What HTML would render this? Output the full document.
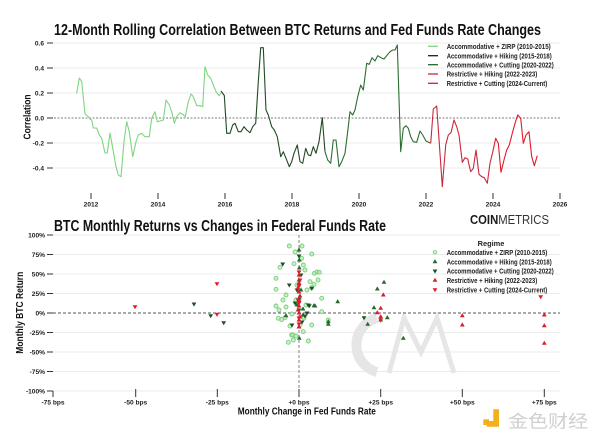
<!DOCTYPE html>
<html><head><meta charset="utf-8"><style>
html,body{margin:0;padding:0;background:#fff;}
svg{display:block;font-family:"Liberation Sans","Noto Sans CJK SC",sans-serif;}
.t{font-weight:bold;fill:#111;}
.tk{font-size:6.6px;font-weight:bold;fill:#222;}
.lg{font-size:7.4px;font-weight:bold;fill:#222;}
.g{stroke:#ebebeb;stroke-width:1;}
.k{stroke:#333;stroke-width:1;}
</style></head><body>
<svg width="600" height="442" viewBox="0 0 600 442" xmlns="http://www.w3.org/2000/svg">
<defs>
<path id="tu" d="M0,-2.6 L2.4,1.5 L-2.4,1.5Z"/>
<path id="td" d="M0,2.6 L2.4,-1.5 L-2.4,-1.5Z"/>
</defs>
<rect width="600" height="442" fill="#fff"/>

<!-- ===== TOP CHART ===== -->
<text class="t" x="54" y="35" font-size="15.5" textLength="487" lengthAdjust="spacingAndGlyphs">12-Month Rolling Correlation Between BTC Returns and Fed Funds Rate Changes</text>

<g class="g">
<line x1="54" y1="43" x2="560" y2="43"/>
<line x1="54" y1="68" x2="560" y2="68"/>
<line x1="54" y1="93" x2="560" y2="93"/>
<line x1="54" y1="143" x2="560" y2="143"/>
<line x1="54" y1="168" x2="560" y2="168"/>
</g>
<line x1="54" y1="118" x2="560" y2="118" stroke="#555" stroke-width="0.8" stroke-dasharray="2,1.5"/>

<g class="k">
<line x1="47" y1="43" x2="53" y2="43"/>
<line x1="47" y1="68" x2="53" y2="68"/>
<line x1="47" y1="93" x2="53" y2="93"/>
<line x1="47" y1="118" x2="53" y2="118"/>
<line x1="47" y1="143" x2="53" y2="143"/>
<line x1="47" y1="168" x2="53" y2="168"/>
<line x1="91" y1="193" x2="91" y2="199"/>
<line x1="158" y1="193" x2="158" y2="199"/>
<line x1="225" y1="193" x2="225" y2="199"/>
<line x1="292" y1="193" x2="292" y2="199"/>
<line x1="359" y1="193" x2="359" y2="199"/>
<line x1="426" y1="193" x2="426" y2="199"/>
<line x1="493" y1="193" x2="493" y2="199"/>
<line x1="560" y1="193" x2="560" y2="199"/>
</g>
<g class="tk" text-anchor="end">
<text x="44" y="45.3">0.6</text>
<text x="44" y="70.3">0.4</text>
<text x="44" y="95.3">0.2</text>
<text x="44" y="120.3">0.0</text>
<text x="44" y="145.3">-0.2</text>
<text x="44" y="170.3">-0.4</text>
</g>
<g class="tk" text-anchor="middle">
<text x="91" y="206.5">2012</text>
<text x="158" y="206.5">2014</text>
<text x="225" y="206.5">2016</text>
<text x="292" y="206.5">2018</text>
<text x="359" y="206.5">2020</text>
<text x="426" y="206.5">2022</text>
<text x="493" y="206.5">2024</text>
<text x="560" y="206.5">2026</text>
</g>
<text class="t" font-size="10" transform="translate(30.5,117) rotate(-90)" text-anchor="middle" textLength="45" lengthAdjust="spacingAndGlyphs">Correlation</text>

<g fill="none" stroke-width="1.1" stroke-linejoin="round">
<polyline stroke="#7dd67f" points="76.7,93.3 79.3,78 81.7,81.7 85,114 88.3,116.7 90,119 91.7,120 93.3,128 96.7,128 99.3,135 101.7,138.3 105,153 107.3,153 110,133 112.7,148 116,166.7 118.3,175 121,176.7 124,141.7 126.7,121.7 129.3,131.7 132.7,156.7 136,141.7 138.3,135 141.7,133.3 145,136.7 149.3,136.7 151.7,118.3 155,111.7 157.3,121.7 160,121 163.3,120 166,100 169.3,105 171.7,111.7 174.3,123.3 176.7,116.7 180,112.7 182.7,114.3 185.3,116.7 188.3,101.7 191,94 193.3,96.7 196.7,105.7 200,105.7 202.7,106.7 205,66.7 207.7,75 210.7,78.3 213.3,85 216,91.7 219,95.7 221,93"/>
<polyline stroke="#1f4a22" points="221,91 224.3,95.5 226.7,133.3 230,133.3 232.7,125 235,123.3 238.3,131.7 241,131.7 244,126.7 246.7,130 250,132.7 252.7,126.7 255.7,123.3 258.3,81.7 260.7,47.7 263.3,47.7 266,110 268.3,115 271.7,126.7 274.3,130 277.3,136.7 280.7,156.7 283.3,151.7 286,158.3 289.3,166.7 291.7,161.7 294,153.3 297.3,145 300,161.7 302.7,163.3 305.7,148.3 308.3,155 310.7,155.7 313.3,146.7 316,153.3 319,141.7 322.3,117.7 325,151.7"/>
<polyline stroke="#2b6e30" points="325,151.7 327.7,160 330.7,163.3 333.3,140 336,140 339,166.7 341.7,161.7 345,153.3 347.7,131.7 350,111.7 352.7,115 355,110 357.7,96.7 360.7,85 363.3,90 366.7,63.3 369.3,64.3 372,57.7 375,61 377.7,55.7 381,57.7 384,59 386.7,55.7 390,51.7 392.7,50 395,50 397.3,45 400.7,151.7 403.3,128.3 406,125.7 408.3,128.3 410.7,136.7 413.3,141.7 416.7,142.3 420,131 422.7,135 426,141 430.7,143.3"/>
<polyline stroke="#c9283b" points="430.7,143.3 433.3,109 436.7,106 442.3,186.7 445.7,145 448.3,135 451,132.7 454,120 456.7,126.7 459,135 462.3,162.3 465,157.7 467.7,159 470.7,171.7 473.3,168.3 476,150 479,174.3 481.7,176.7 484.3,177.7 487.3,183.3 490,163.3 492.7,152.3"/>
<polyline stroke="#e0192a" points="492.7,152.3 495.7,138.3 498.3,143.3 501,172.3 504,160 506.7,150 509.3,145 512.3,133.3 515,123.3 517.7,115 520.7,118.3 523.3,143.3 526,135 529,131.7 531.7,156.7 534.3,165.7 537.3,155.7"/>
</g>

<!-- top legend -->
<g stroke-width="1.3">
<line x1="428" y1="46.3" x2="438" y2="46.3" stroke="#7dd67f"/>
<line x1="428" y1="55.7" x2="438" y2="55.7" stroke="#0f2410"/>
<line x1="428" y1="64.7" x2="438" y2="64.7" stroke="#1f6a2a"/>
<line x1="428" y1="74" x2="438" y2="74" stroke="#c9283b"/>
<line x1="428" y1="83.3" x2="438" y2="83.3" stroke="#e0192a"/>
</g>
<g class="lg">
<text x="446.7" y="49" textLength="104" lengthAdjust="spacingAndGlyphs">Accommodative + ZIRP (2010-2015)</text>
<text x="446.7" y="58.4" textLength="105" lengthAdjust="spacingAndGlyphs">Accommodative + Hiking (2015-2018)</text>
<text x="446.7" y="67.4" textLength="107" lengthAdjust="spacingAndGlyphs">Accommodative + Cutting (2020-2022)</text>
<text x="446.7" y="76.7" textLength="90.6" lengthAdjust="spacingAndGlyphs">Restrictive + Hiking (2022-2023)</text>
<text x="446.7" y="86" textLength="100.6" lengthAdjust="spacingAndGlyphs">Restrictive + Cutting (2024-Current)</text>
</g>

<!-- ===== BOTTOM CHART ===== -->
<text class="t" x="54" y="231" font-size="15.5" textLength="332" lengthAdjust="spacingAndGlyphs">BTC Monthly Returns vs Changes in Federal Funds Rate</text>
<text x="470" y="224" font-size="12.5" fill="#1a1a1a" textLength="79" lengthAdjust="spacingAndGlyphs"><tspan font-weight="bold">COIN</tspan><tspan font-weight="normal" fill="#333">METRICS</tspan></text>

<g class="g">
<line x1="53" y1="235" x2="560" y2="235"/>
<line x1="53" y1="254.5" x2="560" y2="254.5"/>
<line x1="53" y1="274" x2="560" y2="274"/>
<line x1="53" y1="293.5" x2="560" y2="293.5"/>
<line x1="53" y1="332.5" x2="560" y2="332.5"/>
<line x1="53" y1="352" x2="560" y2="352"/>
<line x1="53" y1="371.5" x2="560" y2="371.5"/>
<line x1="53" y1="391" x2="560" y2="391"/>
</g>

<!-- CM watermark -->
<g fill="none" stroke="#e6e6e6" stroke-linecap="butt">
<path d="M377,318 A28,28 0 0 0 377,372" stroke-width="10"/>
<polyline points="389,373 404,318 421,352 437,318 454,373" stroke-width="5" stroke-linejoin="miter"/>
</g>

<line x1="53" y1="313" x2="560" y2="313" stroke="#555" stroke-width="0.9" stroke-dasharray="3,2"/>
<line x1="299" y1="235" x2="299" y2="391" stroke="#777" stroke-width="0.9" stroke-dasharray="3,2"/>

<g class="k">
<line x1="47" y1="235" x2="53" y2="235"/>
<line x1="47" y1="254.5" x2="53" y2="254.5"/>
<line x1="47" y1="274" x2="53" y2="274"/>
<line x1="47" y1="293.5" x2="53" y2="293.5"/>
<line x1="47" y1="313" x2="53" y2="313"/>
<line x1="47" y1="332.5" x2="53" y2="332.5"/>
<line x1="47" y1="352" x2="53" y2="352"/>
<line x1="47" y1="371.5" x2="53" y2="371.5"/>
<line x1="47" y1="391" x2="53" y2="391"/>
<line x1="53" y1="391" x2="53" y2="397"/>
<line x1="135.7" y1="389" x2="135.7" y2="397"/>
<line x1="217.3" y1="389" x2="217.3" y2="397"/>
<line x1="299" y1="389" x2="299" y2="397"/>
<line x1="380.7" y1="389" x2="380.7" y2="397"/>
<line x1="462.3" y1="389" x2="462.3" y2="397"/>
<line x1="544.3" y1="389" x2="544.3" y2="397"/>
</g>
<g class="tk" text-anchor="end">
<text x="45" y="237.3">100%</text>
<text x="45" y="256.8">75%</text>
<text x="45" y="276.3">50%</text>
<text x="45" y="295.8">25%</text>
<text x="45" y="315.3">0%</text>
<text x="45" y="334.8">-25%</text>
<text x="45" y="354.3">-50%</text>
<text x="45" y="373.8">-75%</text>
<text x="45" y="393.3">-100%</text>
</g>
<g class="tk" text-anchor="middle">
<text x="53" y="404.3">-75 bps</text>
<text x="135.7" y="404.3">-50 bps</text>
<text x="217.3" y="404.3">-25 bps</text>
<text x="299" y="404.3">+0 bps</text>
<text x="380.7" y="404.3">+25 bps</text>
<text x="462.3" y="404.3">+50 bps</text>
<text x="544.3" y="404.3">+75 bps</text>
</g>
<text class="t" font-size="10.5" x="306.8" y="414.5" text-anchor="middle" textLength="138" lengthAdjust="spacingAndGlyphs">Monthly Change in Fed Funds Rate</text>
<text class="t" font-size="10.5" transform="translate(22.8,312.7) rotate(-90)" text-anchor="middle" textLength="82" lengthAdjust="spacingAndGlyphs">Monthly BTC Return</text>

<!-- scatter: ZIRP circles -->
<g fill="#a8e6a8" fill-opacity="0.6" stroke="#78cf7a" stroke-width="0.9">
<circle cx="289.3" cy="246" r="2"/><circle cx="311.7" cy="254" r="2"/><circle cx="280" cy="267.3" r="2"/>
<circle cx="276" cy="278.3" r="2"/><circle cx="276" cy="289.3" r="2"/><circle cx="286" cy="295" r="2"/>
<circle cx="314.3" cy="273.3" r="2"/><circle cx="317" cy="272" r="2"/><circle cx="319.3" cy="272.3" r="2"/>
<circle cx="314" cy="284.3" r="2"/><circle cx="321.7" cy="298.3" r="2"/><circle cx="276" cy="306" r="2"/>
<circle cx="278.3" cy="318.3" r="2"/><circle cx="281.7" cy="319.5" r="2"/><circle cx="285" cy="317.7" r="2"/>
<circle cx="321.7" cy="311.7" r="2"/><circle cx="311.7" cy="325" r="2"/><circle cx="291.7" cy="335" r="2"/>
<circle cx="296" cy="336" r="2"/><circle cx="288.3" cy="342.3" r="2"/><circle cx="293.3" cy="340" r="2"/>
<circle cx="308.3" cy="341" r="2"/><circle cx="303.3" cy="331.7" r="2"/><circle cx="310" cy="281.7" r="2"/>
<circle cx="294" cy="263.7" r="2"/><circle cx="301.7" cy="258.3" r="2"/><circle cx="303.3" cy="265" r="2"/>
<circle cx="328.3" cy="320" r="2"/><circle cx="311.7" cy="287.7" r="2"/><circle cx="292.7" cy="335" r="2"/>
<circle cx="283" cy="300" r="2"/><circle cx="279" cy="310" r="2"/><circle cx="296" cy="300" r="2"/>
<circle cx="305" cy="270" r="2"/><circle cx="307" cy="290" r="2"/><circle cx="297" cy="285" r="2"/>
<circle cx="292" cy="314" r="2"/><circle cx="304" cy="318" r="2"/><circle cx="300" cy="325" r="2"/>
<circle cx="290" cy="326" r="2"/><circle cx="306" cy="305" r="2"/><circle cx="295" cy="252" r="2"/>
<circle cx="302" cy="246" r="2"/><circle cx="286" cy="307" r="2"/><circle cx="318" cy="280" r="2"/>
</g>
<!-- hiking 2015-2018: dark green up -->
<g fill="#236a2b">
<use href="#tu" x="299.3" y="260"/><use href="#tu" x="299.3" y="268"/><use href="#tu" x="299.3" y="298"/>
<use href="#tu" x="328.3" y="321.7"/><use href="#tu" x="337.7" y="301.7"/><use href="#tu" x="314" y="305.7"/>
<use href="#tu" x="286" y="315.7"/><use href="#tu" x="303" y="315"/><use href="#tu" x="299.3" y="338.3"/>
<use href="#tu" x="315" y="306"/><use href="#tu" x="328.3" y="324.3"/><use href="#tu" x="384" y="282.3"/>
<use href="#tu" x="377.3" y="289"/><use href="#tu" x="374" y="307.7"/><use href="#tu" x="367.7" y="324.3"/>
<use href="#tu" x="387.3" y="317.7"/><use href="#tu" x="380.7" y="320"/><use href="#tu" x="403.3" y="338.3"/>
<use href="#tu" x="299" y="280"/><use href="#tu" x="301" y="290"/><use href="#tu" x="297" y="305"/>
<use href="#tu" x="299" y="327"/><use href="#tu" x="303" y="309"/><use href="#tu" x="299" y="250"/>
</g>
<!-- cutting 2020-2022: dark green down -->
<g fill="#1d5224">
<use href="#td" x="194" y="304"/><use href="#td" x="210.7" y="315.7"/><use href="#td" x="223.7" y="322.7"/>
<use href="#td" x="282.7" y="264"/><use href="#td" x="289.3" y="285"/><use href="#td" x="292" y="325"/>
<use href="#td" x="311.7" y="288.3"/><use href="#td" x="309.3" y="305.7"/><use href="#td" x="307" y="313"/>
<use href="#td" x="308.3" y="305"/><use href="#td" x="364" y="317.7"/><use href="#td" x="305" y="316"/>
<use href="#td" x="299" y="256"/><use href="#td" x="297" y="290"/><use href="#td" x="301" y="275"/>
<use href="#td" x="299" y="310"/><use href="#td" x="295" y="303"/><use href="#td" x="302" y="322"/>
</g>
<!-- restrictive hiking: red up -->
<g fill="#d3202e">
<use href="#tu" x="383.3" y="295"/><use href="#tu" x="380.7" y="308.3"/><use href="#tu" x="377.3" y="312.7"/>
<use href="#tu" x="380.7" y="316.7"/><use href="#tu" x="462.3" y="315.7"/><use href="#tu" x="462.3" y="325"/>
<use href="#tu" x="544.3" y="315"/><use href="#tu" x="544.3" y="325.7"/><use href="#tu" x="544.3" y="343.3"/>
<use href="#tu" x="299" y="275"/><use href="#tu" x="299" y="283"/><use href="#tu" x="299" y="292"/>
<use href="#tu" x="299" y="300"/><use href="#tu" x="299" y="306"/><use href="#tu" x="299" y="313"/>
<use href="#tu" x="299" y="320"/><use href="#tu" x="299" y="327"/><use href="#tu" x="298" y="288"/>
<use href="#tu" x="300" y="296"/><use href="#tu" x="298" y="310"/><use href="#tu" x="300" y="317"/>
</g>
<!-- restrictive cutting: red down -->
<g fill="#e3192b">
<use href="#td" x="135" y="306.7"/><use href="#td" x="217" y="283.7"/><use href="#td" x="217" y="314.3"/>
<use href="#td" x="540.7" y="296.7"/><use href="#td" x="380.7" y="320"/><use href="#td" x="299" y="272"/>
<use href="#td" x="299" y="286"/><use href="#td" x="299" y="303"/><use href="#td" x="299" y="318"/>
<use href="#td" x="299" y="324"/><use href="#td" x="300" y="280"/><use href="#td" x="298" y="300"/>
</g>

<!-- bottom legend -->
<text x="491" y="246" font-size="7.4" font-weight="bold" fill="#222" text-anchor="middle">Regime</text>
<circle cx="435" cy="252.3" r="1.8" fill="#a8e6a8" fill-opacity="0.6" stroke="#78cf7a" stroke-width="0.8"/>
<use href="#tu" x="435" y="261.7" fill="#236a2b"/>
<use href="#td" x="435" y="271" fill="#1d5224"/>
<use href="#tu" x="435" y="280.3" fill="#d3202e"/>
<use href="#td" x="435" y="289.7" fill="#e3192b"/>
<g class="lg">
<text x="446.7" y="255" textLength="100.6" lengthAdjust="spacingAndGlyphs">Accommodative + ZIRP (2010-2015)</text>
<text x="446.7" y="264.4" textLength="105" lengthAdjust="spacingAndGlyphs">Accommodative + Hiking (2015-2018)</text>
<text x="446.7" y="273.7" textLength="107" lengthAdjust="spacingAndGlyphs">Accommodative + Cutting (2020-2022)</text>
<text x="446.7" y="283" textLength="90.6" lengthAdjust="spacingAndGlyphs">Restrictive + Hiking (2022-2023)</text>
<text x="446.7" y="292.4" textLength="100.6" lengthAdjust="spacingAndGlyphs">Restrictive + Cutting (2024-Current)</text>
</g>

<!-- 金色财经 watermark -->
<rect x="483.3" y="419.3" width="5.7" height="5.7" fill="#f4b01c"/>
<path d="M493.3,409.3 H499 V426.7 H486.7 V421 H493.3 Z" fill="#f4b01c"/>
<text x="508" y="427.5" font-size="17.5" fill="#cfcfcf" font-family="'Noto Sans CJK SC',sans-serif" textLength="80" lengthAdjust="spacingAndGlyphs">金色财经</text>
</svg>
</body></html>
